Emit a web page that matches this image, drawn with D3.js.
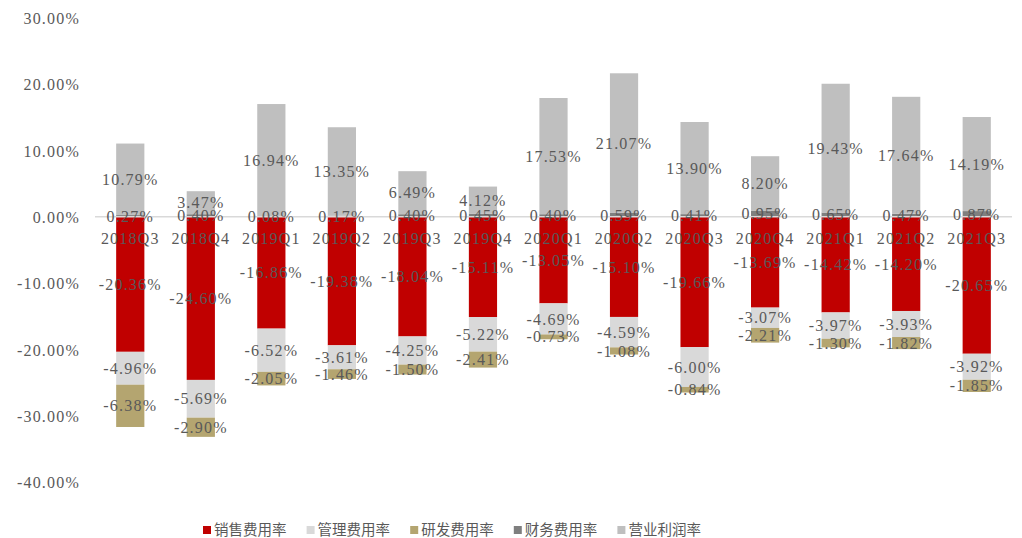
<!DOCTYPE html>
<html>
<head>
<meta charset="utf-8">
<script src="https://cdn.jsdelivr.net/npm/d3@7"></script>
<style>
  html, body { margin: 0; padding: 0; background: #fff; }
  svg { display: block; }
</style>
</head>
<body>
<div id="chart"></div>
<script>
// 季度
const quarters = ['2018Q3', '2018Q4', '2019Q1', '2019Q2', '2019Q3', '2019Q4', '2020Q1',
  '2020Q2', '2020Q3', '2020Q4', '2021Q1', '2021Q2', '2021Q3']

// 各项费用率 / 利润率 (%)
const salesRate = [-20.36, -24.60, -16.86, -19.38, -18.04, -15.11, -13.05, -15.10, -19.66, -13.69, -14.42, -14.20, -20.65]
const adminRate = [-4.96, -5.69, -6.52, -3.61, -4.25, -5.22, -4.69, -4.59, -6.00, -3.07, -3.97, -3.93, -3.92]
const rdRate = [-6.38, -2.90, -2.05, -1.46, -1.50, -2.41, -0.73, -1.08, -0.84, -2.21, -1.30, -1.82, -1.85]
const financeRate = [0.27, 0.40, 0.08, 0.17, 0.40, 0.45, 0.40, 0.59, 0.41, 0.95, 0.65, 0.47, 0.87]
const profitRate = [10.79, 3.47, 16.94, 13.35, 6.49, 4.12, 17.53, 21.07, 13.90, 8.20, 19.43, 17.64, 14.19]

const seriesNames = ['销售费用率', '管理费用率', '研发费用率', '财务费用率', '营业利润率']
const yTicks = [30, 20, 10, 0, -10, -20, -30, -40]

const colors = ['#c00000', '#d9d9d9', '#b4a570', '#7f7f7f', '#bfbfbf']
const seriesValues = [salesRate, adminRate, rdRate, financeRate, profitRate]

const width = 1022
const height = 538
const labelFont = '"Liberation Serif", "DejaVu Serif", serif'
const textColor = '#595959'

const rows = quarters.map((q, i) => {
  const row = { quarter: q }
  seriesNames.forEach((name, k) => { row[name] = seriesValues[k][i] })
  return row
})

const stacked = d3.stack()
  .keys(seriesNames)
  .offset(d3.stackOffsetDiverging)(rows)

const x = d3.scaleBand()
  .domain(quarters)
  .range([95, 1012])
  .paddingInner(0.6)
  .paddingOuter(0.3)

const y = d3.scaleLinear()
  .domain([-40, 30])
  .range([482, 18])

const svg = d3.select('#chart')
  .append('svg')
  .attr('width', width)
  .attr('height', height)

// y 轴标签
const yAxis = d3.axisLeft(y)
  .tickValues(yTicks)
  .tickSize(0)
  .tickPadding(0)
  .tickFormat(d => d.toFixed(2) + '%')

svg.append('g')
  .attr('transform', 'translate(80,0)')
  .call(yAxis)
  .call(g => g.select('.domain').remove())
  .call(g => g.selectAll('text')
    .attr('font-family', labelFont)
    .attr('font-size', 16)
    .attr('letter-spacing', 1.2)
    .attr('fill', textColor)
    .attr('dy', '0.35em'))

// 柱子
const layers = svg.append('g')
  .selectAll('g')
  .data(stacked)
  .join('g')
  .attr('fill', (d, i) => colors[i])

layers.selectAll('rect')
  .data(d => d)
  .join('rect')
  .attr('x', d => x(d.data.quarter))
  .attr('width', x.bandwidth())
  .attr('y', d => y(Math.max(d[0], d[1])))
  .attr('height', d => Math.abs(y(d[0]) - y(d[1])))

// 零线
svg.append('line')
  .attr('x1', x.range()[0])
  .attr('x2', x.range()[1])
  .attr('y1', y(0))
  .attr('y2', y(0))
  .attr('stroke', '#d9d9d9')
  .attr('stroke-width', 1.5)

// 类别标签
svg.append('g')
  .selectAll('text')
  .data(quarters)
  .join('text')
  .attr('x', d => x(d) + x.bandwidth() / 2)
  .attr('y', y(0) + 22)
  .attr('dy', '0.35em')
  .attr('text-anchor', 'middle')
  .attr('font-family', labelFont)
  .attr('font-size', 16)
  .attr('letter-spacing', 1.2)
  .attr('fill', textColor)
  .text(d => d)

// 数据标签
const labelGroups = svg.append('g')
  .selectAll('g')
  .data(stacked)
  .join('g')

labelGroups.selectAll('text')
  .data(d => d.map(p => ({ p, key: d.key })))
  .join('text')
  .attr('x', d => x(d.p.data.quarter) + x.bandwidth() / 2)
  .attr('y', d => y((d.p[0] + d.p[1]) / 2))
  .attr('dy', '0.35em')
  .attr('text-anchor', 'middle')
  .attr('font-family', labelFont)
  .attr('font-size', 16)
  .attr('letter-spacing', 1.2)
  .attr('fill', textColor)
  .text(d => d.p.data[d.key].toFixed(2) + '%')

// 图例
const legend = svg.append('g')
  .attr('transform', 'translate(203,530)')

const items = legend.selectAll('g')
  .data(seriesNames)
  .join('g')
  .attr('transform', (d, i) => `translate(${i * 103.6},0)`)

items.append('rect')
  .attr('x', 0)
  .attr('y', -4)
  .attr('width', 8)
  .attr('height', 8)
  .attr('fill', (d, i) => colors[i])

items.append('text')
  .attr('x', 11)
  .attr('y', 0)
  .attr('dy', '0.36em')
  .attr('font-family', '"Noto Sans CJK SC", sans-serif')
  .attr('font-size', 14.5)
  .attr('fill', textColor)
  .text(d => d)
</script>
</body>
</html>
